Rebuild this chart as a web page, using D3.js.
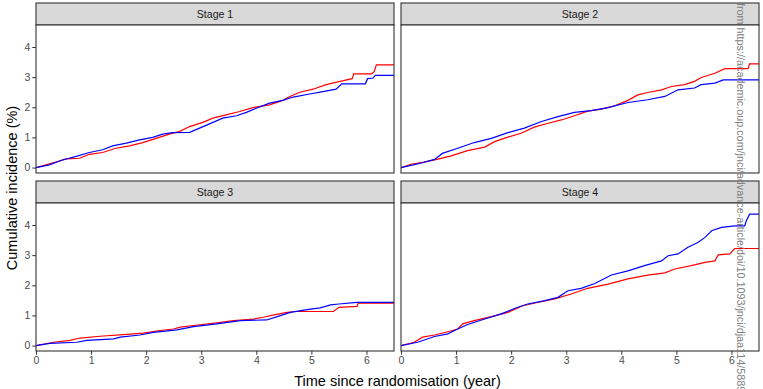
<!DOCTYPE html>
<html>
 <head>
  <title>Cumulative incidence by stage</title>
  <script src="https://cdnjs.cloudflare.com/ajax/libs/d3/7.8.3/d3.min.js"></script>
  <style>
   body { margin: 0; background: #fff; }
   text { font-family: "Liberation Sans", Arial, sans-serif; }
  </style>
 </head>
 <body>
  <script>
   // corner points [time (year), cumulative incidence (%)]
   const stages = ["Stage 1", "Stage 2", "Stage 3", "Stage 4"];
   const xTicks = [0, 1, 2, 3, 4, 5, 6];
   const yTicks = [0, 1, 2, 3, 4];

   const stage1Red = [[0,0],[0.18,0.09],[0.39,0.20],[0.55,0.29],[0.79,0.31],[0.97,0.44],[1.21,0.50],[1.45,0.64],[1.70,0.72],[1.94,0.83],[2.18,0.97],[2.42,1.11],[2.61,1.20],[2.79,1.36],[3.03,1.50],[3.21,1.64],[3.45,1.75],[3.70,1.86],[3.94,1.99],[4.24,2.08],[4.48,2.23],[4.61,2.36],[4.79,2.50],[5.03,2.60],[5.27,2.75],[5.52,2.86],[5.74,2.95],[5.77,3.11],[6.09,3.11],[6.14,3.18],[6.18,3.41],[6.5,3.41]];
   const stage1Blue = [[0,0],[0.24,0.09],[0.48,0.25],[0.73,0.37],[0.97,0.50],[1.21,0.59],[1.39,0.72],[1.64,0.81],[1.88,0.92],[2.12,1.00],[2.30,1.11],[2.48,1.16],[2.79,1.17],[2.97,1.31],[3.15,1.45],[3.39,1.64],[3.64,1.72],[3.82,1.83],[4.00,1.97],[4.24,2.14],[4.48,2.23],[4.67,2.34],[4.97,2.44],[5.21,2.52],[5.45,2.60],[5.55,2.78],[5.98,2.78],[6.02,2.95],[6.12,2.97],[6.16,3.06],[6.5,3.06]];
   const stage2Red = [[0,0],[0.18,0.11],[0.42,0.18],[0.67,0.28],[0.91,0.39],[1.21,0.56],[1.52,0.68],[1.70,0.86],[1.94,1.01],[2.18,1.14],[2.42,1.34],[2.67,1.47],[2.91,1.58],[3.15,1.72],[3.39,1.87],[3.64,1.94],[3.88,2.05],[4.12,2.23],[4.30,2.41],[4.48,2.49],[4.73,2.58],[4.91,2.69],[5.15,2.75],[5.33,2.86],[5.45,2.99],[5.70,3.13],[5.88,3.28],[6.30,3.28],[6.33,3.44],[6.5,3.44]];
   const stage2Blue = [[0,0],[0.30,0.12],[0.61,0.27],[0.75,0.47],[1.03,0.64],[1.33,0.83],[1.64,0.97],[1.94,1.16],[2.24,1.31],[2.55,1.53],[2.85,1.69],[3.15,1.83],[3.45,1.89],[3.76,1.99],[4.12,2.16],[4.48,2.25],[4.79,2.36],[5.03,2.58],[5.33,2.64],[5.45,2.75],[5.70,2.80],[5.85,2.91],[6.5,2.91]];
   const stage3Red = [[0,0],[0.32,0.11],[0.62,0.17],[0.80,0.25],[1.16,0.31],[1.59,0.36],[1.95,0.41],[2.25,0.50],[2.50,0.55],[2.62,0.61],[2.98,0.69],[3.28,0.75],[3.59,0.83],[3.95,0.88],[4.13,0.94],[4.32,1.02],[4.56,1.10],[4.70,1.13],[5.40,1.13],[5.50,1.27],[5.83,1.30],[5.85,1.41],[6.5,1.41]];
   const stage3Blue = [[0,0],[0.25,0.07],[0.74,0.11],[0.92,0.17],[1.41,0.22],[1.53,0.28],[1.89,0.35],[2.13,0.44],[2.56,0.52],[2.86,0.63],[3.28,0.72],[3.71,0.83],[4.19,0.85],[4.38,0.96],[4.62,1.10],[4.92,1.19],[5.16,1.25],[5.35,1.35],[5.50,1.38],[5.83,1.43],[6.5,1.43]];
   const stage4Red = [[0,0],[0.24,0.11],[0.39,0.28],[0.61,0.35],[0.85,0.46],[1.03,0.55],[1.12,0.72],[1.33,0.83],[1.64,0.96],[1.94,1.10],[2.21,1.32],[2.48,1.43],[2.79,1.55],[3.09,1.71],[3.39,1.90],[3.76,2.04],[4.12,2.21],[4.48,2.34],[4.79,2.41],[4.97,2.54],[5.27,2.65],[5.52,2.76],[5.70,2.81],[5.76,3.01],[5.97,3.04],[6.06,3.22],[6.5,3.22]];
   const stage4Blue = [[0,0],[0.30,0.11],[0.61,0.30],[0.85,0.39],[1.03,0.55],[1.21,0.70],[1.52,0.88],[1.82,1.05],[2.12,1.27],[2.30,1.38],[2.61,1.49],[2.85,1.60],[3.03,1.82],[3.27,1.90],[3.52,2.06],[3.82,2.34],[4.12,2.48],[4.42,2.65],[4.73,2.81],[4.85,2.98],[5.03,3.04],[5.21,3.26],[5.39,3.42],[5.52,3.59],[5.64,3.81],[5.82,3.92],[6.06,3.97],[6.24,3.97],[6.27,4.14],[6.33,4.36],[6.5,4.36]];

   const redSeries = [stage1Red, stage2Red, stage3Red, stage4Red];
   const blueSeries = [stage1Blue, stage2Blue, stage3Blue, stage4Blue];

   const w = 763, h = 389;
   const colX = [36, 401];
   const rowStrip = [3, 181];
   const stripH = 22;
   const pw = 358, ph = 148;

   const svg = d3.select("body").append("svg")
                 .attr("width", w)
                 .attr("height", h);

   const xScale = d3.scaleLinear().domain([0, 6.5]).range([0, pw]);
   const yScale = d3.scaleLinear().domain([-0.18, 4.73]).range([ph, 0]);

   const line = d3.line()
                  .x(d => xScale(d[0]))
                  .y(d => yScale(d[1]));

   svg.append("defs").append("clipPath")
      .attr("id", "clip")
      .append("rect")
      .attr("width", pw)
      .attr("height", ph);

   stages.forEach((name, i) => {
    const col = i % 2, row = Math.floor(i / 2);
    const px = colX[col];
    const py = rowStrip[row] + stripH;

    // strip
    svg.append("rect")
       .attr("x", px).attr("y", rowStrip[row])
       .attr("width", pw).attr("height", stripH)
       .attr("fill", "#d9d9d9")
       .attr("stroke", "#333").attr("stroke-width", 1.1);
    svg.append("text")
       .attr("x", px + pw / 2).attr("y", rowStrip[row] + stripH / 2 + 4)
       .attr("text-anchor", "middle")
       .attr("font-size", "10.6px")
       .attr("fill", "#1a1a1a")
       .text(name);

    const g = svg.append("g").attr("transform", "translate(" + px + "," + py + ")");
    g.append("rect")
     .attr("width", pw).attr("height", ph)
     .attr("fill", "#fff");

    const lines = g.append("g").attr("clip-path", "url(#clip)");
    lines.append("path")
         .datum(redSeries[i])
         .attr("d", line)
         .attr("fill", "none")
         .attr("stroke", "#ff0000")
         .attr("stroke-width", 1.2);
    lines.append("path")
         .datum(blueSeries[i])
         .attr("d", line)
         .attr("fill", "none")
         .attr("stroke", "#0000ff")
         .attr("stroke-width", 1.2);

    g.append("rect")
     .attr("width", pw).attr("height", ph)
     .attr("fill", "none")
     .attr("stroke", "#333").attr("stroke-width", 1.1);

    if (col == 0) {
     const yAxis = d3.axisLeft(yScale).tickValues(yTicks).tickFormat(d3.format("d")).tickSize(3.7).tickPadding(2);
     const ya = g.append("g").call(yAxis);
     ya.select(".domain").remove();
     ya.selectAll("line").attr("stroke", "#333");
     ya.selectAll("text").attr("font-size", "10.5px").attr("fill", "#4d4d4d")
       .style("font-family", "'Liberation Sans', Arial, sans-serif");
    }
    if (row == 1) {
     const xAxis = d3.axisBottom(xScale).tickValues(xTicks).tickFormat(d3.format("d")).tickSize(3.7).tickPadding(2);
     const xa = g.append("g").attr("transform", "translate(0," + ph + ")").call(xAxis);
     xa.select(".domain").remove();
     xa.selectAll("line").attr("stroke", "#333");
     xa.selectAll("text").attr("font-size", "10.5px").attr("fill", "#4d4d4d")
       .style("font-family", "'Liberation Sans', Arial, sans-serif");
    }
   });

   svg.append("text")
      .attr("x", (colX[0] + colX[1] + pw) / 2).attr("y", 386)
      .attr("text-anchor", "middle")
      .attr("font-size", "14.5px")
      .attr("fill", "#000")
      .text("Time since randomisation (year)");

   // y title centred on the panel area below the top strip
   svg.append("text")
      .attr("transform", "translate(17," + ((rowStrip[0] + stripH + rowStrip[1] + stripH + ph) / 2) + ") rotate(-90)")
      .attr("text-anchor", "middle")
      .attr("font-size", "14.5px")
      .attr("fill", "#000")
      .text("Cumulative incidence (%)");

   // source watermark down the right side
   svg.append("text")
      .attr("transform", "translate(737,3) rotate(90)")
      .attr("font-size", "10.8px")
      .attr("fill", "#808080")
      .text("from https://academic.oup.com/jnci/advance-article/doi/10.1093/jnci/djaa114/5889934");
  </script>
 </body>
</html>
